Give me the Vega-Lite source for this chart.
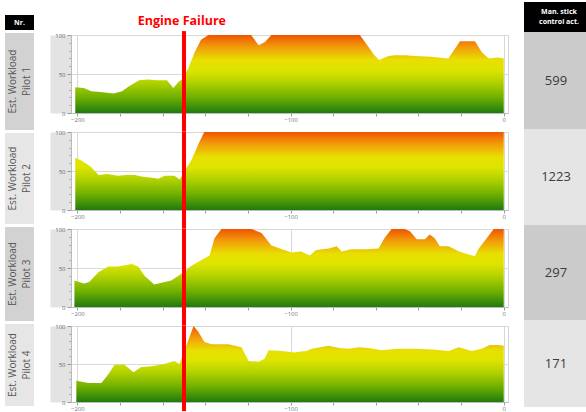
{
  "$schema": "https://vega.github.io/schema/vega-lite/v6.json",
  "padding": {"left": 5, "top": 0, "right": 0, "bottom": 0},
  "background": "white",
  "config": {"font": "Open Sans", "view": {"stroke": null}},
  "datasets": {
    "wl": [
      {"p":1,"t":-201,"w":33},{"p":1,"t":-197,"w":32},{"p":1,"t":-193.5,"w":28},{"p":1,"t":-189,"w":27},{"p":1,"t":-183,"w":25},{"p":1,"t":-179,"w":28},{"p":1,"t":-176,"w":34},{"p":1,"t":-171,"w":42},{"p":1,"t":-167,"w":43},{"p":1,"t":-163,"w":42},{"p":1,"t":-158,"w":42},{"p":1,"t":-155,"w":32},{"p":1,"t":-152.5,"w":40},{"p":1,"t":-151,"w":43},{"p":1,"t":-148,"w":57},{"p":1,"t":-145,"w":78},{"p":1,"t":-142,"w":94},{"p":1,"t":-138.5,"w":100},{"p":1,"t":-118.5,"w":100},{"p":1,"t":-115,"w":87},{"p":1,"t":-112,"w":91},{"p":1,"t":-109,"w":100},{"p":1,"t":-67.5,"w":100},{"p":1,"t":-63.5,"w":85},{"p":1,"t":-61,"w":75},{"p":1,"t":-58.5,"w":68},{"p":1,"t":-54,"w":73},{"p":1,"t":-51,"w":74},{"p":1,"t":-46,"w":74},{"p":1,"t":-42,"w":73},{"p":1,"t":-34,"w":72},{"p":1,"t":-26,"w":70},{"p":1,"t":-23,"w":82},{"p":1,"t":-20.5,"w":92},{"p":1,"t":-13.5,"w":92},{"p":1,"t":-10.3,"w":78},{"p":1,"t":-7,"w":70},{"p":1,"t":-3,"w":71},{"p":1,"t":0,"w":70},
      {"p":2,"t":-201,"w":67},{"p":2,"t":-198,"w":63},{"p":2,"t":-194,"w":56},{"p":2,"t":-190,"w":45},{"p":2,"t":-186,"w":46},{"p":2,"t":-181,"w":44},{"p":2,"t":-177,"w":45},{"p":2,"t":-173,"w":45},{"p":2,"t":-170,"w":43},{"p":2,"t":-167,"w":42},{"p":2,"t":-164,"w":41},{"p":2,"t":-162,"w":40},{"p":2,"t":-159,"w":44},{"p":2,"t":-156,"w":44},{"p":2,"t":-154.5,"w":44},{"p":2,"t":-152,"w":39},{"p":2,"t":-150,"w":49},{"p":2,"t":-146.5,"w":64},{"p":2,"t":-143,"w":86},{"p":2,"t":-140.5,"w":100},{"p":2,"t":0,"w":100},
      {"p":3,"t":-201.4,"w":34},{"p":3,"t":-197,"w":30},{"p":3,"t":-194.5,"w":32},{"p":3,"t":-190,"w":45},{"p":3,"t":-185.5,"w":52},{"p":3,"t":-181,"w":52},{"p":3,"t":-174.5,"w":55},{"p":3,"t":-171.5,"w":52},{"p":3,"t":-168.5,"w":40},{"p":3,"t":-164,"w":29},{"p":3,"t":-160.5,"w":31},{"p":3,"t":-156,"w":34},{"p":3,"t":-151,"w":43},{"p":3,"t":-146.5,"w":53},{"p":3,"t":-142,"w":60},{"p":3,"t":-138,"w":66},{"p":3,"t":-135.7,"w":88},{"p":3,"t":-132.4,"w":100},{"p":3,"t":-118.3,"w":100},{"p":3,"t":-113.6,"w":95},{"p":3,"t":-109,"w":79},{"p":3,"t":-103,"w":73},{"p":3,"t":-99.5,"w":70},{"p":3,"t":-95,"w":71},{"p":3,"t":-91,"w":66},{"p":3,"t":-88,"w":73},{"p":3,"t":-82,"w":75},{"p":3,"t":-78.4,"w":78},{"p":3,"t":-76,"w":71},{"p":3,"t":-71.4,"w":74},{"p":3,"t":-65,"w":74},{"p":3,"t":-58.7,"w":75},{"p":3,"t":-56,"w":88},{"p":3,"t":-52.6,"w":100},{"p":3,"t":-46.5,"w":100},{"p":3,"t":-44,"w":97},{"p":3,"t":-40.8,"w":87},{"p":3,"t":-37,"w":87},{"p":3,"t":-34.7,"w":93},{"p":3,"t":-32.4,"w":88},{"p":3,"t":-30,"w":78},{"p":3,"t":-25.8,"w":78},{"p":3,"t":-21,"w":71},{"p":3,"t":-13.6,"w":65},{"p":3,"t":-11.7,"w":75},{"p":3,"t":-8,"w":88},{"p":3,"t":-4.7,"w":100},{"p":3,"t":0,"w":100},
      {"p":4,"t":-200.5,"w":28},{"p":4,"t":-194.8,"w":25},{"p":4,"t":-188.7,"w":25},{"p":4,"t":-185.4,"w":37},{"p":4,"t":-182.6,"w":49},{"p":4,"t":-177.9,"w":49},{"p":4,"t":-173.7,"w":39},{"p":4,"t":-170,"w":46},{"p":4,"t":-165.3,"w":47},{"p":4,"t":-159.2,"w":50},{"p":4,"t":-154.5,"w":54},{"p":4,"t":-152.1,"w":50},{"p":4,"t":-148.8,"w":75},{"p":4,"t":-145.5,"w":100},{"p":4,"t":-143.2,"w":92},{"p":4,"t":-140.4,"w":79},{"p":4,"t":-137.1,"w":76},{"p":4,"t":-129.1,"w":76},{"p":4,"t":-123,"w":72},{"p":4,"t":-119.7,"w":54},{"p":4,"t":-115,"w":53},{"p":4,"t":-112.2,"w":57},{"p":4,"t":-110.3,"w":68},{"p":4,"t":-104.2,"w":67},{"p":4,"t":-98.1,"w":65},{"p":4,"t":-96.2,"w":66},{"p":4,"t":-92.5,"w":67},{"p":4,"t":-90.1,"w":70},{"p":4,"t":-82.2,"w":74},{"p":4,"t":-77,"w":71},{"p":4,"t":-72.8,"w":70},{"p":4,"t":-68,"w":72},{"p":4,"t":-63.4,"w":71},{"p":4,"t":-57.3,"w":68},{"p":4,"t":-50,"w":70},{"p":4,"t":-41.8,"w":70},{"p":4,"t":-33,"w":69},{"p":4,"t":-25.8,"w":67},{"p":4,"t":-21.1,"w":72},{"p":4,"t":-15,"w":67},{"p":4,"t":-10.3,"w":70},{"p":4,"t":-6.6,"w":75},{"p":4,"t":-2.3,"w":75},{"p":4,"t":0,"w":74}
    ],
    "labels": [
      {"p":1,"a":"Est. Workload","b":"Pilot 1"},
      {"p":2,"a":"Est. Workload","b":"Pilot 2"},
      {"p":3,"a":"Est. Workload","b":"Pilot 3"},
      {"p":4,"a":"Est. Workload","b":"Pilot 4"}
    ],
    "stick": [
      {"p":1,"n":599},{"p":2,"n":1223},{"p":3,"n":297},{"p":4,"n":171}
    ]
  },
  "spacing": 15,
  "hconcat": [
    {
      "spacing": 3,
      "vconcat": [
        {"width": 29, "height": 9, "data": {"values": [{}]}, "mark": {"type": "text"}, "encoding": {"text": {"value": ""}}},
        {"width": 29, "height": 15, "view": {"fill": "#000000"}, "data": {"values": [{}]}, "mark": {"type": "text", "color": "#ffffff", "fontSize": 7, "fontWeight": "bold"}, "encoding": {"text": {"value": "Nr."}}},
        {"width": 29, "height": 97, "view": {"fill": "#d2d2d2"}, "data": {"name": "labels"}, "transform": [{"filter": "datum.p == 1"}], "layer": [
          {"mark": {"type": "text", "angle": 270, "fontSize": 10, "color": "#555555", "dy": -7}, "encoding": {"text": {"field": "a"}}},
          {"mark": {"type": "text", "angle": 270, "fontSize": 10, "color": "#555555", "dy": 7}, "encoding": {"text": {"field": "b"}}}
        ]},
        {"width": 29, "height": 91, "view": {"fill": "#e6e6e6"}, "data": {"name": "labels"}, "transform": [{"filter": "datum.p == 2"}], "layer": [
          {"mark": {"type": "text", "angle": 270, "fontSize": 10, "color": "#555555", "dy": -7}, "encoding": {"text": {"field": "a"}}},
          {"mark": {"type": "text", "angle": 270, "fontSize": 10, "color": "#555555", "dy": 7}, "encoding": {"text": {"field": "b"}}}
        ]},
        {"width": 29, "height": 94, "view": {"fill": "#d2d2d2"}, "data": {"name": "labels"}, "transform": [{"filter": "datum.p == 3"}], "layer": [
          {"mark": {"type": "text", "angle": 270, "fontSize": 10, "color": "#555555", "dy": -7}, "encoding": {"text": {"field": "a"}}},
          {"mark": {"type": "text", "angle": 270, "fontSize": 10, "color": "#555555", "dy": 7}, "encoding": {"text": {"field": "b"}}}
        ]},
        {"width": 29, "height": 82, "view": {"fill": "#e6e6e6"}, "data": {"name": "labels"}, "transform": [{"filter": "datum.p == 4"}], "layer": [
          {"mark": {"type": "text", "angle": 270, "fontSize": 10, "color": "#555555", "dy": -7}, "encoding": {"text": {"field": "a"}}},
          {"mark": {"type": "text", "angle": 270, "fontSize": 10, "color": "#555555", "dy": 7}, "encoding": {"text": {"field": "b"}}}
        ]}
      ]
    },
    {
      "spacing": 19,
      "bounds": "flush",
      "vconcat": [
        {
          "width": 437, "height": 14,
          "data": {"values": [{}]},
          "mark": {"type": "text", "text": "Engine Failure", "color": "#ff0000", "fontSize": 12.5, "fontWeight": "bold", "dy": 12},
          "encoding": {
            "x": {"datum": -151, "type": "quantitative", "scale": {"domain": [-203, 2], "nice": false, "zero": false}, "axis": null}
          }
        },
        {
          "width": 437, "height": 78, "view": {"stroke": "#d9d9d9"},
          "resolve": {"axis": {"y": "independent"}},
          "layer": [
            {
              "data": {"name": "wl"}, "transform": [{"filter": "datum.p == 1"}],
              "mark": {"type": "area", "fill": {"gradient": "linear", "x1": 0, "y1": 0, "x2": 0, "y2": 1, "stops": [{"offset": 0, "color": "#ee5500"}, {"offset": 0.15, "color": "#f29a0a"}, {"offset": 0.32, "color": "#e8df00"}, {"offset": 0.45, "color": "#dde400"}, {"offset": 0.6, "color": "#b5d300"}, {"offset": 0.8, "color": "#6fb000"}, {"offset": 1, "color": "#1f7a10"}]}},
              "encoding": {
                "x": {"field": "t", "type": "quantitative", "scale": {"domain": [-203, 2], "nice": false, "zero": false}, "axis": {"values": [-200,-190,-180,-170,-160,-150,-140,-130,-120,-110,-100,-90,-80,-70,-60,-50,-40,-30,-20,-10,0], "labelExpr": "datum.value % 50 === 0 ? datum.label : ''", "tickSize": 3, "grid": true, "gridOpacity": {"condition": {"test": "datum.value % 50 === 0", "value": 1}, "value": 0}, "gridColor": "#d8d8d8", "labelFontSize": 6, "labelColor": "#777777", "labelPadding": 0, "tickColor": "#999999", "domainColor": "#bbbbbb", "title": null, "labelOverlap": false, "labelFlush": false}},
                "y": {"field": "w", "type": "quantitative", "scale": {"domain": [0, 100]}, "axis": {"orient": "left", "labels": false, "ticks": false, "grid": false, "offset": 10.5, "domainWidth": 21, "domainColor": "#e3e3e3", "title": null, "minExtent": 10.5, "maxExtent": 10.5}}
              }
            },
            {"data": {"values": [{}]}, "mark": {"type": "rule", "color": "#ff0000", "strokeWidth": 4}, "encoding": {"x": {"datum": -150, "type": "quantitative"}, "y": {"datum": 105, "type": "quantitative", "axis": {"orient": "left", "values": [0,10,20,30,40,50,60,70,80,90,100], "labelExpr": "datum.value % 50 === 0 ? datum.label : ''", "tickSize": {"condition": {"test": "datum.value % 50 === 0", "value": 4}, "value": 2}, "grid": true, "gridOpacity": {"condition": {"test": "datum.value % 50 === 0", "value": 1}, "value": 0}, "gridColor": "#d8d8d8", "labelFontSize": 6, "labelColor": "#6a6a6a", "labelPadding": 2, "tickColor": "#999999", "domainColor": "#bbbbbb", "title": null, "minExtent": 0, "maxExtent": 21, "labelOverlap": false}}, "y2": {"datum": -24}}}
          ]
        },
        {
          "width": 437, "height": 78, "view": {"stroke": "#d9d9d9"},
          "resolve": {"axis": {"y": "independent"}},
          "layer": [
            {
              "data": {"name": "wl"}, "transform": [{"filter": "datum.p == 2"}],
              "mark": {"type": "area", "fill": {"gradient": "linear", "x1": 0, "y1": 0, "x2": 0, "y2": 1, "stops": [{"offset": 0, "color": "#ee5500"}, {"offset": 0.15, "color": "#f29a0a"}, {"offset": 0.32, "color": "#e8df00"}, {"offset": 0.45, "color": "#dde400"}, {"offset": 0.6, "color": "#b5d300"}, {"offset": 0.8, "color": "#6fb000"}, {"offset": 1, "color": "#1f7a10"}]}},
              "encoding": {
                "x": {"field": "t", "type": "quantitative", "scale": {"domain": [-203, 2], "nice": false, "zero": false}, "axis": {"values": [-200,-190,-180,-170,-160,-150,-140,-130,-120,-110,-100,-90,-80,-70,-60,-50,-40,-30,-20,-10,0], "labelExpr": "datum.value % 50 === 0 ? datum.label : ''", "tickSize": 3, "grid": true, "gridOpacity": {"condition": {"test": "datum.value % 50 === 0", "value": 1}, "value": 0}, "gridColor": "#d8d8d8", "labelFontSize": 6, "labelColor": "#777777", "labelPadding": 0, "tickColor": "#999999", "domainColor": "#bbbbbb", "title": null, "labelOverlap": false, "labelFlush": false}},
                "y": {"field": "w", "type": "quantitative", "scale": {"domain": [0, 100]}, "axis": {"orient": "left", "labels": false, "ticks": false, "grid": false, "offset": 10.5, "domainWidth": 21, "domainColor": "#e3e3e3", "title": null, "minExtent": 10.5, "maxExtent": 10.5}}
              }
            },
            {"data": {"values": [{}]}, "mark": {"type": "rule", "color": "#ff0000", "strokeWidth": 4}, "encoding": {"x": {"datum": -150, "type": "quantitative"}, "y": {"datum": 100, "type": "quantitative", "axis": {"orient": "left", "values": [0,10,20,30,40,50,60,70,80,90,100], "labelExpr": "datum.value % 50 === 0 ? datum.label : ''", "tickSize": {"condition": {"test": "datum.value % 50 === 0", "value": 4}, "value": 2}, "grid": true, "gridOpacity": {"condition": {"test": "datum.value % 50 === 0", "value": 1}, "value": 0}, "gridColor": "#d8d8d8", "labelFontSize": 6, "labelColor": "#6a6a6a", "labelPadding": 2, "tickColor": "#999999", "domainColor": "#bbbbbb", "title": null, "minExtent": 0, "maxExtent": 21, "labelOverlap": false}}, "y2": {"datum": -24}}}
          ]
        },
        {
          "width": 437, "height": 78, "view": {"stroke": "#d9d9d9"},
          "resolve": {"axis": {"y": "independent"}},
          "layer": [
            {
              "data": {"name": "wl"}, "transform": [{"filter": "datum.p == 3"}],
              "mark": {"type": "area", "fill": {"gradient": "linear", "x1": 0, "y1": 0, "x2": 0, "y2": 1, "stops": [{"offset": 0, "color": "#ee5500"}, {"offset": 0.15, "color": "#f29a0a"}, {"offset": 0.32, "color": "#e8df00"}, {"offset": 0.45, "color": "#dde400"}, {"offset": 0.6, "color": "#b5d300"}, {"offset": 0.8, "color": "#6fb000"}, {"offset": 1, "color": "#1f7a10"}]}},
              "encoding": {
                "x": {"field": "t", "type": "quantitative", "scale": {"domain": [-203, 2], "nice": false, "zero": false}, "axis": {"values": [-200,-190,-180,-170,-160,-150,-140,-130,-120,-110,-100,-90,-80,-70,-60,-50,-40,-30,-20,-10,0], "labelExpr": "datum.value % 50 === 0 ? datum.label : ''", "tickSize": 3, "grid": true, "gridOpacity": {"condition": {"test": "datum.value % 50 === 0", "value": 1}, "value": 0}, "gridColor": "#d8d8d8", "labelFontSize": 6, "labelColor": "#777777", "labelPadding": 0, "tickColor": "#999999", "domainColor": "#bbbbbb", "title": null, "labelOverlap": false, "labelFlush": false}},
                "y": {"field": "w", "type": "quantitative", "scale": {"domain": [0, 100]}, "axis": {"orient": "left", "labels": false, "ticks": false, "grid": false, "offset": 10.5, "domainWidth": 21, "domainColor": "#e3e3e3", "title": null, "minExtent": 10.5, "maxExtent": 10.5}}
              }
            },
            {"data": {"values": [{}]}, "mark": {"type": "rule", "color": "#ff0000", "strokeWidth": 4}, "encoding": {"x": {"datum": -150, "type": "quantitative"}, "y": {"datum": 100, "type": "quantitative", "axis": {"orient": "left", "values": [0,10,20,30,40,50,60,70,80,90,100], "labelExpr": "datum.value % 50 === 0 ? datum.label : ''", "tickSize": {"condition": {"test": "datum.value % 50 === 0", "value": 4}, "value": 2}, "grid": true, "gridOpacity": {"condition": {"test": "datum.value % 50 === 0", "value": 1}, "value": 0}, "gridColor": "#d8d8d8", "labelFontSize": 6, "labelColor": "#6a6a6a", "labelPadding": 2, "tickColor": "#999999", "domainColor": "#bbbbbb", "title": null, "minExtent": 0, "maxExtent": 21, "labelOverlap": false}}, "y2": {"datum": -24}}}
          ]
        },
        {
          "width": 437, "height": 76, "view": {"stroke": "#d9d9d9"},
          "resolve": {"axis": {"y": "independent"}},
          "layer": [
            {
              "data": {"name": "wl"}, "transform": [{"filter": "datum.p == 4"}],
              "mark": {"type": "area", "fill": {"gradient": "linear", "x1": 0, "y1": 0, "x2": 0, "y2": 1, "stops": [{"offset": 0, "color": "#ee5500"}, {"offset": 0.15, "color": "#f29a0a"}, {"offset": 0.32, "color": "#e8df00"}, {"offset": 0.45, "color": "#dde400"}, {"offset": 0.6, "color": "#b5d300"}, {"offset": 0.8, "color": "#6fb000"}, {"offset": 1, "color": "#1f7a10"}]}},
              "encoding": {
                "x": {"field": "t", "type": "quantitative", "scale": {"domain": [-203, 2], "nice": false, "zero": false}, "axis": {"values": [-200,-190,-180,-170,-160,-150,-140,-130,-120,-110,-100,-90,-80,-70,-60,-50,-40,-30,-20,-10,0], "labelExpr": "datum.value % 50 === 0 ? datum.label : ''", "tickSize": 3, "grid": true, "gridOpacity": {"condition": {"test": "datum.value % 50 === 0", "value": 1}, "value": 0}, "gridColor": "#d8d8d8", "labelFontSize": 6, "labelColor": "#777777", "labelPadding": 0, "tickColor": "#999999", "domainColor": "#bbbbbb", "title": null, "labelOverlap": false, "labelFlush": false}},
                "y": {"field": "w", "type": "quantitative", "scale": {"domain": [0, 100]}, "axis": {"orient": "left", "labels": false, "ticks": false, "grid": false, "offset": 10.5, "domainWidth": 21, "domainColor": "#e3e3e3", "title": null, "minExtent": 10.5, "maxExtent": 10.5}}
              }
            },
            {"data": {"values": [{}]}, "mark": {"type": "rule", "color": "#ff0000", "strokeWidth": 4}, "encoding": {"x": {"datum": -150, "type": "quantitative"}, "y": {"datum": 100, "type": "quantitative", "axis": {"orient": "left", "values": [0,10,20,30,40,50,60,70,80,90,100], "labelExpr": "datum.value % 50 === 0 ? datum.label : ''", "tickSize": {"condition": {"test": "datum.value % 50 === 0", "value": 4}, "value": 2}, "grid": true, "gridOpacity": {"condition": {"test": "datum.value % 50 === 0", "value": 1}, "value": 0}, "gridColor": "#d8d8d8", "labelFontSize": 6, "labelColor": "#6a6a6a", "labelPadding": 2, "tickColor": "#999999", "domainColor": "#bbbbbb", "title": null, "minExtent": 0, "maxExtent": 21, "labelOverlap": false}}, "y2": {"datum": -12}}}
          ]
        }
      ]
    },
    {
      "spacing": 0,
      "vconcat": [
        {"width": 64, "height": 30, "view": {"fill": "#000000"}, "data": {"values": [{}]}, "layer": [
          {"mark": {"type": "text", "color": "#ffffff", "fontSize": 7, "fontWeight": "bold", "dy": -5, "dx": 3}, "encoding": {"text": {"value": "Man. stick"}}},
          {"mark": {"type": "text", "color": "#ffffff", "fontSize": 7, "fontWeight": "bold", "dy": 5, "dx": 3}, "encoding": {"text": {"value": "control act."}}}
        ]},
        {"width": 64, "height": 97, "view": {"fill": "#cbcbcb"}, "data": {"name": "stick"}, "transform": [{"filter": "datum.p == 1"}], "mark": {"type": "text", "fontSize": 13, "color": "#3c3c3c"}, "encoding": {"text": {"field": "n"}}},
        {"width": 64, "height": 96, "view": {"fill": "#e5e5e5"}, "data": {"name": "stick"}, "transform": [{"filter": "datum.p == 2"}], "mark": {"type": "text", "fontSize": 13, "color": "#3c3c3c"}, "encoding": {"text": {"field": "n"}}},
        {"width": 64, "height": 95, "view": {"fill": "#cbcbcb"}, "data": {"name": "stick"}, "transform": [{"filter": "datum.p == 3"}], "mark": {"type": "text", "fontSize": 13, "color": "#3c3c3c"}, "encoding": {"text": {"field": "n"}}},
        {"width": 64, "height": 87, "view": {"fill": "#e5e5e5"}, "data": {"name": "stick"}, "transform": [{"filter": "datum.p == 4"}], "mark": {"type": "text", "fontSize": 13, "color": "#3c3c3c"}, "encoding": {"text": {"field": "n"}}}
      ]
    }
  ]
}
